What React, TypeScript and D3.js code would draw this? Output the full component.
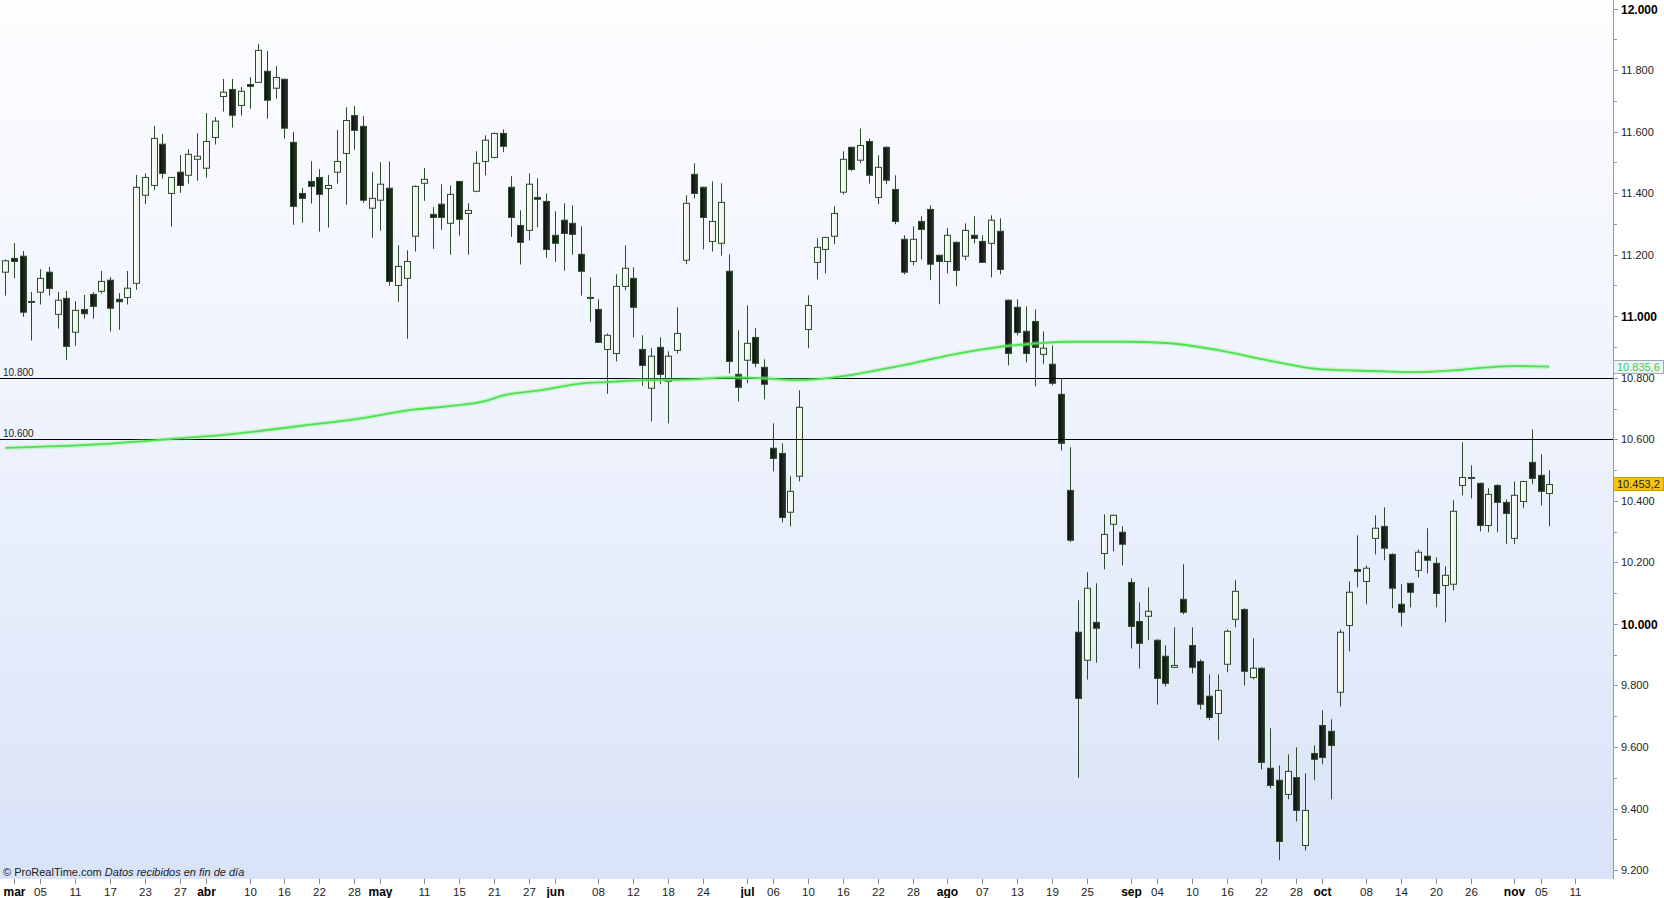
import { useEffect, useRef } from 'react';
import * as d3 from 'd3';

// daily candles, IBEX-like index, 27 feb -> 06 nov
const opens = [
  11143, 11188, 11195, 11048, 11078, 11143, 11006, 11058, 10948, 11022,
  11071, 11081, 11117, 11055, 11061, 11107, 11393, 11425, 11559, 11399,
  11468, 11458, 11510, 11481, 11581, 11714, 11737, 11685, 11753, 11760,
  11796, 11741, 11770, 11565, 11399, 11438, 11451, 11415, 11468, 11529,
  11652, 11617, 11351, 11377, 11416, 11100, 11123, 11260, 11432, 11331,
  11364, 11302, 11438, 11334, 11406, 11503, 11516, 11594, 11419, 11295,
  11279, 11386, 11373, 11263, 11312, 11302, 11201, 11061, 11022, 10892,
  10879, 11097, 11123, 10892, 10766, 10899, 10788, 10889, 11182, 11461,
  11419, 11243, 11237, 11146, 10811, 10857, 10931, 10834, 10571, 10554,
  10363, 10480, 10957, 11175, 11217, 11260, 11403, 11549, 11507, 11568,
  11386, 11549, 11412, 11250, 11178, 11308, 11347, 11198, 11178, 11240,
  11195, 11263, 11243, 11237, 11276, 11052, 11029, 10951, 10983, 10876,
  10844, 10746, 10434, 9973, 9882, 10005, 10229, 10324, 10298, 10135,
  10008, 10025, 9947, 9895, 9859, 10080, 9930, 9878, 9765, 9709,
  9869, 10015, 10047, 9826, 9856, 9531, 9492, 9446, 9501, 9280,
  9579, 9670, 9651, 9778, 9995, 10177, 10138, 10278, 10317, 10226,
  10064, 10132, 10174, 10220, 10197, 10125, 10129, 10450, 10476, 10457,
  10320, 10450, 10395, 10278, 10398, 10525, 10483, 10424,
];
const highs = [
  11185, 11238, 11212, 11079, 11153, 11160, 11079, 11082, 11049, 11069,
  11078, 11147, 11127, 11075, 11147, 11459, 11464, 11618, 11592, 11451,
  11524, 11543, 11595, 11660, 11647, 11771, 11771, 11745, 11777, 11885,
  11862, 11813, 11772, 11599, 11416, 11504, 11478, 11459, 11605, 11679,
  11683, 11650, 11468, 11500, 11503, 11230, 11214, 11425, 11482, 11355,
  11429, 11425, 11440, 11367, 11536, 11588, 11597, 11607, 11455, 11344,
  11464, 11448, 11399, 11341, 11367, 11360, 11292, 11126, 11055, 10944,
  11136, 11230, 11159, 10938, 10896, 10931, 10886, 11029, 11393, 11497,
  11421, 11438, 11432, 11201, 10954, 11035, 10961, 10860, 10652, 10587,
  10480, 10759, 11068, 11253, 11258, 11357, 11536, 11551, 11610, 11578,
  11523, 11552, 11458, 11263, 11292, 11325, 11360, 11200, 11286, 11243,
  11302, 11325, 11263, 11328, 11318, 11054, 11055, 11032, 11022, 10951,
  10905, 10798, 10574, 10077, 10168, 10132, 10356, 10355, 10317, 10148,
  10070, 10119, 9950, 9930, 9989, 10194, 9989, 9885, 9836, 9836,
  9982, 10142, 10051, 9953, 9859, 9661, 9540, 9576, 9599, 9514,
  9605, 9719, 9690, 9982, 10138, 10288, 10190, 10353, 10379, 10229,
  10129, 10134, 10242, 10311, 10216, 10187, 10402, 10590, 10515, 10459,
  10441, 10454, 10405, 10463, 10465, 10632, 10551, 10499,
];
const lows = [
  11067, 11123, 10998, 10921, 11038, 11067, 10960, 10858, 10904, 10992,
  10992, 11074, 10950, 10956, 11038, 11086, 11364, 11409, 11447, 11291,
  11401, 11431, 11440, 11450, 11558, 11665, 11613, 11652, 11674, 11758,
  11642, 11707, 11577, 11297, 11304, 11366, 11275, 11288, 11431, 11362,
  11541, 11369, 11255, 11278, 11099, 11047, 10927, 11210, 11375, 11219,
  11281, 11200, 11262, 11200, 11403, 11458, 11513, 11533, 11258, 11168,
  11246, 11289, 11190, 11177, 11148, 11200, 11067, 10982, 10913, 10748,
  10853, 11084, 10931, 10774, 10658, 10779, 10652, 10879, 11169, 11383,
  11217, 11210, 11197, 10814, 10723, 10782, 10834, 10730, 10496, 10330,
  10317, 10463, 10896, 11120, 11139, 11234, 11396, 11471, 11497, 11431,
  11364, 11429, 11299, 11136, 11165, 11185, 11117, 11039, 11139, 11097,
  11182, 11237, 11173, 11126, 11136, 10840, 10938, 10850, 10772, 10844,
  10775, 10564, 10266, 9500, 9819, 9874, 10177, 10236, 10190, 9920,
  9855, 9947, 9738, 9797, 9857, 10031, 9839, 9722, 9687, 9622,
  9843, 9989, 9800, 9820, 9527, 9466, 9232, 9430, 9358, 9264,
  9492, 9544, 9430, 9732, 9911, 10119, 10064, 10226, 10207, 10051,
  9992, 10054, 10151, 10164, 10054, 10005, 10109, 10418, 10408, 10301,
  10298, 10298, 10259, 10259, 10376, 10454, 10385, 10317,
];
const closes = [
  11180, 11178, 11013, 11048, 11123, 11090, 11052, 10902, 11019, 11008,
  11032, 11113, 11026, 11047, 11091, 11419, 11451, 11578, 11464, 11451,
  11425, 11526, 11520, 11568, 11634, 11728, 11653, 11731, 11747, 11864,
  11702, 11776, 11611, 11357, 11383, 11422, 11396, 11425, 11503, 11636,
  11604, 11377, 11383, 11429, 11113, 11162, 11178, 11422, 11445, 11321,
  11321, 11396, 11315, 11344, 11497, 11572, 11594, 11552, 11321, 11240,
  11429, 11380, 11217, 11237, 11269, 11266, 11146, 11061, 10915, 10938,
  11097, 11156, 11029, 10840, 10870, 10811, 10870, 10944, 11367, 11399,
  11321, 11308, 11370, 10853, 10769, 10912, 10847, 10779, 10538, 10346,
  10431, 10704, 11035, 11224, 11256, 11334, 11510, 11477, 11555, 11458,
  11484, 11442, 11308, 11143, 11250, 11282, 11169, 11178, 11263, 11149,
  11279, 11253, 11175, 11312, 11152, 10879, 10947, 10879, 10899, 10896,
  10782, 10587, 10272, 9758, 10116, 9986, 10291, 10353, 10259, 9992,
  9937, 10041, 9823, 9807, 9865, 10038, 9859, 9739, 9696, 9784,
  9976, 10106, 9846, 9856, 9550, 9475, 9293, 9521, 9394, 9394,
  9560, 9566, 9605, 9973, 10103, 10171, 10181, 10311, 10246, 10116,
  10038, 10103, 10233, 10207, 10099, 10158, 10366, 10476, 10473, 10320,
  10421, 10395, 10359, 10418, 10463, 10473, 10431, 10453,
];

// moving average (candle index, value)
const maIndex = [0, 11, 19, 26, 34, 40, 47, 51, 55, 57, 61, 66, 69, 73, 78, 83, 87, 91, 95, 97, 100, 104, 108, 112, 115, 118, 122, 128, 133, 139, 145, 151, 158, 161, 166, 170, 173, 177];
const maValues = [10572, 10584, 10601, 10617, 10644, 10665, 10697, 10708, 10724, 10742, 10758, 10781, 10786, 10792, 10794, 10801, 10798, 10792, 10801, 10809, 10825, 10847, 10872, 10892, 10904, 10911, 10917, 10917, 10913, 10890, 10855, 10827, 10821, 10818, 10824, 10834, 10838, 10836];

const priceLines = [10800, 10600];
const lastMa = 10835.6;
const lastClose = 10453.2;

const yTicks = [12000, 11800, 11600, 11400, 11200, 11000, 10800, 10600, 10400, 10200, 10000, 9800, 9600, 9400, 9200];
const yMinor = [11900, 11700, 11500, 11300, 11100, 10900, 10700, 10500, 10300, 10100, 9900, 9700, 9500, 9300];

const monthLabels = ['mar', 'abr', 'may', 'jun', 'jul', 'ago', 'sep', 'oct', 'nov'];
const monthIndex = [1, 23, 43, 63, 85, 108, 129, 151, 173];
const dayLabels = ['05', '11', '17', '23', '27', '10', '16', '22', '28', '11', '15', '21', '27', '08', '12', '18', '24', '06', '10', '16', '22', '28', '07', '13', '19', '25', '04', '10', '16', '22', '28', '08', '14', '20', '26', '05', '11'];
const dayIndex = [4, 8, 12, 16, 20, 28, 32, 36, 40, 48, 52, 56, 60, 68, 72, 76, 80, 88, 92, 96, 100, 104, 112, 116, 120, 124, 132, 136, 140, 144, 148, 156, 160, 164, 168, 176, 180];

const FONT = '"Liberation Sans", Arial, sans-serif';

export default function App() {
  const svgRef = useRef<SVGSVGElement>(null);

  useEffect(() => {
    if (!svgRef.current) return;
    const svg = d3.select(svgRef.current);
    svg.selectAll('*').remove();

    const width = 1664;
    const height = 898;
    const plotRight = 1613;
    const plotBottom = 879;

    const x = d3.scaleLinear().domain([0, closes.length - 1]).range([5.3, 1549.3]);
    const y = d3.scaleLinear().domain([9200, 12000]).range([870.1, 8.5]);

    const es = d3.formatLocale({ decimal: ',', thousands: '.', grouping: [3], currency: ['', ''] });
    const fmt0 = es.format(',.0f');
    const fmt1 = es.format(',.1f');

    const defs = svg.append('defs');
    const bg = defs.append('linearGradient').attr('id', 'bg').attr('x1', 0).attr('y1', 0).attr('x2', 0).attr('y2', 1);
    bg.append('stop').attr('offset', '0%').attr('stop-color', '#fdfdff');
    bg.append('stop').attr('offset', '50%').attr('stop-color', '#edf2fc');
    bg.append('stop').attr('offset', '100%').attr('stop-color', '#d9e3f8');

    const dark = defs.append('linearGradient').attr('id', 'dark').attr('x1', 0).attr('y1', 0).attr('x2', 1).attr('y2', 0);
    dark.append('stop').attr('offset', '0%').attr('stop-color', '#0b0e0b');
    dark.append('stop').attr('offset', '100%').attr('stop-color', '#2b332b');

    const light = defs.append('linearGradient').attr('id', 'light').attr('x1', 0).attr('y1', 0).attr('x2', 1).attr('y2', 0);
    light.append('stop').attr('offset', '0%').attr('stop-color', '#ffffff');
    light.append('stop').attr('offset', '100%').attr('stop-color', '#e9efe4');

    svg.append('rect').attr('width', width).attr('height', height).attr('fill', '#ffffff');
    svg.append('rect').attr('width', plotRight).attr('height', plotBottom).attr('fill', 'url(#bg)');

    // candles
    const idx = d3.range(closes.length);
    const g = svg.append('g');
    g.selectAll('line.wick')
      .data(idx)
      .join('line')
      .attr('class', 'wick')
      .attr('x1', (i) => Math.round(x(i)) + 0.5)
      .attr('x2', (i) => Math.round(x(i)) + 0.5)
      .attr('y1', (i) => y(highs[i]))
      .attr('y2', (i) => y(lows[i]))
      .attr('stroke', '#2c4a2c')
      .attr('stroke-width', 1);

    g.selectAll('rect.body')
      .data(idx)
      .join('rect')
      .attr('class', 'body')
      .attr('x', (i) => Math.round(x(i)) - 2.5)
      .attr('y', (i) => y(Math.max(opens[i], closes[i])))
      .attr('width', 6)
      .attr('height', (i) => Math.max(1, Math.abs(y(opens[i]) - y(closes[i]))))
      .attr('fill', (i) => (closes[i] < opens[i] ? 'url(#dark)' : 'url(#light)'))
      .attr('stroke', '#2c4a2c')
      .attr('stroke-width', 1);

    // horizontal levels
    priceLines.forEach((p) => {
      const py = Math.round(y(p)) + 0.5;
      svg.append('line').attr('x1', 0).attr('x2', plotRight).attr('y1', py).attr('y2', py)
        .attr('stroke', '#000').attr('stroke-width', 1);
      svg.append('text').attr('x', 3).attr('y', py - 3).text(fmt0(p))
        .style('font-family', FONT).style('font-size', '10px').attr('fill', '#222');
    });

    // moving average
    const ma = d3.line<number>()
      .x((d, i) => x(maIndex[i]))
      .y((d) => y(d))
      .curve(d3.curveMonotoneX);
    svg.append('path').attr('d', ma(maValues)).attr('fill', 'none')
      .attr('stroke', '#7af07a').attr('stroke-opacity', 0.35).attr('stroke-width', 4.5);
    svg.append('path').attr('d', ma(maValues)).attr('fill', 'none')
      .attr('stroke', '#4ee04e').attr('stroke-width', 1.8);

    // right axis
    svg.append('line').attr('x1', plotRight + 0.5).attr('x2', plotRight + 0.5).attr('y1', 0).attr('y2', plotBottom)
      .attr('stroke', '#8d9bb0');
    yMinor.forEach((v) => {
      const ty = Math.round(y(v)) + 0.5;
      svg.append('line').attr('x1', plotRight).attr('x2', plotRight + 4).attr('y1', ty).attr('y2', ty).attr('stroke', '#8d9bb0');
    });
    yTicks.forEach((v) => {
      const ty = Math.round(y(v)) + 0.5;
      const major = v % 1000 === 0;
      svg.append('line').attr('x1', plotRight).attr('x2', plotRight + 5).attr('y1', ty).attr('y2', ty).attr('stroke', '#8d9bb0');
      svg.append('text').attr('x', plotRight + 8).attr('y', ty).attr('dy', '0.36em').text(fmt0(v))
        .style('font-family', FONT).style('font-size', major ? '12px' : '11px')
        .style('font-weight', major ? 'bold' : 'normal').attr('fill', major ? '#000' : '#222');
    });

    // last value boxes
    const boxes = [
      { v: lastMa, fill: '#eef2f8', stroke: '#9aa8b8', color: '#3fcf3f' },
      { v: lastClose, fill: '#f6c514', stroke: '#c79c00', color: '#222' },
    ];
    boxes.forEach((b) => {
      const by = y(b.v);
      svg.append('rect').attr('x', plotRight + 0.5).attr('y', Math.round(by) - 6.5).attr('width', width - plotRight - 1).attr('height', 13)
        .attr('fill', b.fill).attr('stroke', b.stroke);
      svg.append('text').attr('x', plotRight + 4).attr('y', by).attr('dy', '0.36em').text(fmt1(b.v))
        .style('font-family', FONT).style('font-size', '11px').attr('fill', b.color);
    });

    // x axis
    const tickY = plotBottom;
    dayIndex.forEach((d, i) => {
      const tx = Math.round(x(d)) + 0.5;
      svg.append('line').attr('x1', tx).attr('x2', tx).attr('y1', tickY).attr('y2', tickY + 5).attr('stroke', '#888');
      svg.append('text').attr('x', tx).attr('y', 896).attr('text-anchor', 'middle').text(dayLabels[i])
        .style('font-family', FONT).style('font-size', '11.5px').attr('fill', '#222');
    });
    monthIndex.forEach((m, i) => {
      const tx = Math.round(x(m)) + 0.5;
      svg.append('line').attr('x1', tx).attr('x2', tx).attr('y1', tickY).attr('y2', tickY + 5).attr('stroke', '#888');
      svg.append('text').attr('x', tx).attr('y', 896).attr('text-anchor', 'middle').text(monthLabels[i])
        .style('font-family', FONT).style('font-size', '12px').style('font-weight', 'bold').attr('fill', '#000');
    });

    const credit = svg.append('text').attr('x', 3).attr('y', 876)
      .style('font-family', FONT).style('font-size', '11px').attr('fill', '#222');
    credit.append('tspan').text('© ProRealTime.com ');
    credit.append('tspan').style('font-style', 'italic').text('Datos recibidos en fin de día');
  }, []);

  return (
    <>
      <style>{'body{margin:0}'}</style>
      <svg ref={svgRef} width={1664} height={898} style={{ display: 'block' }} />
    </>
  );
}
